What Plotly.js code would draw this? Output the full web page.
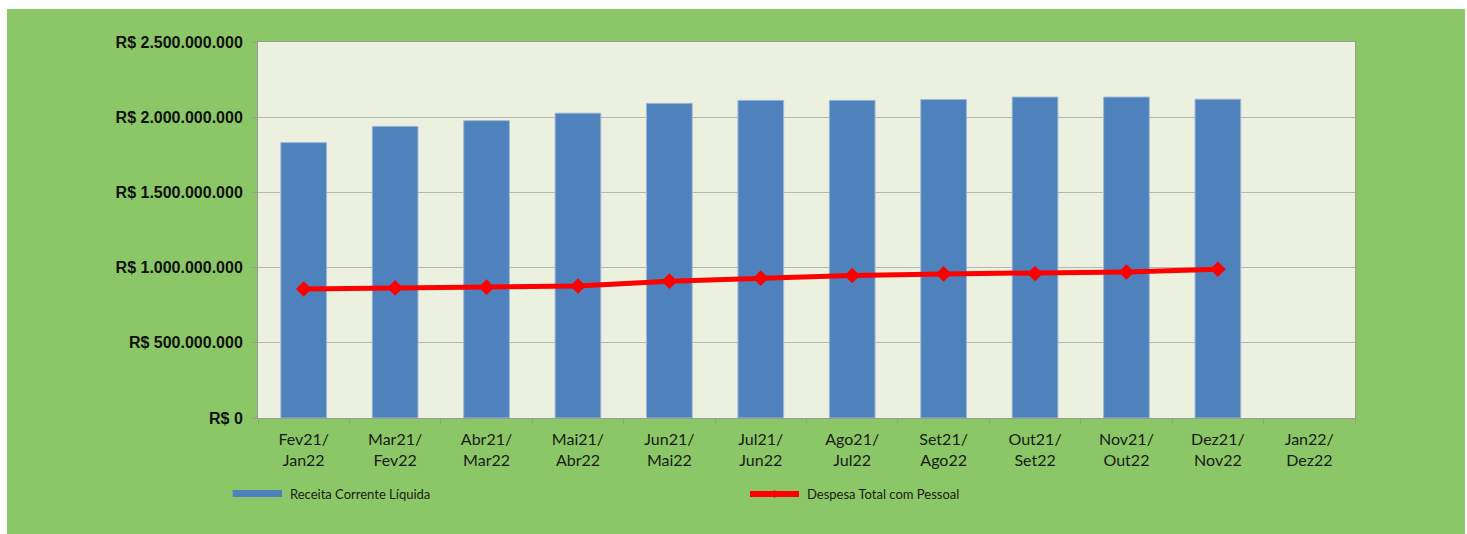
<!DOCTYPE html>
<html>
<head>
<meta charset="utf-8">
<script src="https://cdn.plot.ly/plotly-3.0.1.min.js"></script>
<style>
  html,body{margin:0;padding:0;background:#fff;}
  #chart{position:absolute;left:7px;top:9px;width:1458px;height:525px;}
</style>
</head>
<body>
<div id="chart"></div>
<script>
// RCL x Despesa com Pessoal, periodos de 12 meses
const periodos = ['Fev21/<br>Jan22','Mar21/<br>Fev22','Abr21/<br>Mar22','Mai21/<br>Abr22','Jun21/<br>Mai22','Jul21/<br>Jun22',
                  'Ago21/<br>Jul22','Set21/<br>Ago22','Out21/<br>Set22','Nov21/<br>Out22','Dez21/<br>Nov22','Jan22/<br>Dez22'];
const receitaCorrente = [1831e6, 1939e6, 1977e6, 2027e6, 2092e6, 2112e6, 2112e6, 2118e6, 2134e6, 2134e6, 2120e6, null];
const despesaPessoal  = [858e6, 865e6, 870e6, 878e6, 910e6, 930e6, 947e6, 958e6, 961e6, 971e6, 989e6, null];
const yTicks = [0, 500e6, 1000e6, 1500e6, 2000e6, 2500e6];

// "R$ 2.500.000.000"
const brl = v => 'R$ ' + String(Math.round(v)).replace(/\B(?=(\d{3})+(?!\d))/g, '.');

const legendFont = {family:'Lato, "Open Sans", sans-serif', size:13, color:'#1a1a1a'};

const traces = [
  { type:'bar', name:'Receita Corrente Líquida', x:periodos, y:receitaCorrente,
    marker:{color:'#4f81bd', line:{color:'#9fb8d6', width:1}},
    hovertemplate:'%{x}<br>R$ %{y:,.0f}<extra></extra>' },
  { type:'scatter', mode:'lines+markers', name:'Despesa Total com Pessoal', x:periodos, y:despesaPessoal,
    line:{color:'#ff0000', width:5}, marker:{symbol:'diamond', size:12, color:'#ff0000'},
    hovertemplate:'%{x}<br>R$ %{y:,.0f}<extra></extra>' }
];

const layout = {
  width:1458, height:525,
  paper_bgcolor:'#8bc766', plot_bgcolor:'#ebf1de',
  margin:{l:251, r:110, t:33, b:116},
  separators:',.',
  showlegend:false,
  bargap:0.5,
  xaxis:{
    type:'category', range:[-0.5, 11.5], tickson:'boundaries', ticks:'outside', ticklen:5, tickcolor:'#9a9a9a',
    showline:true, linecolor:'#9a9a9a', linewidth:1, mirror:true, showgrid:false, ticklabelstandoff:7,
    tickfont:{family:'Lato, "Open Sans", sans-serif', size:16, color:'#1a1a1a'}
  },
  yaxis:{
    range:[0, 2500e6], tickmode:'array', tickvals:yTicks, ticktext:yTicks.map(brl),
    ticks:'outside', ticklen:5, tickcolor:'#9a9a9a', ticklabelstandoff:6,
    showline:true, linecolor:'#9a9a9a', linewidth:1, mirror:true,
    gridcolor:'#b4b8b0', gridwidth:1, zeroline:false,
    tickfont:{family:'"Liberation Sans", Arial, sans-serif', size:16, weight:'bold', color:'#111'}
  },
  // legend drawn by hand to match the wide swatches
  shapes:[
    {type:'rect', xref:'paper', yref:'paper', x0:-0.0231, x1:0.0219, y0:-0.1915, y1:-0.2101,
     fillcolor:'#4f81bd', line:{width:0}},
    {type:'line', xref:'paper', yref:'paper', x0:0.4485, x1:0.4932, y0:-0.2021, y1:-0.2021,
     line:{color:'#ff0000', width:6}},
    {type:'path', xref:'paper', yref:'paper', xsizemode:'pixel', ysizemode:'pixel',
     xanchor:0.4708, yanchor:-0.2021, path:'M -4 0 L 0 4 L 4 0 L 0 -4 Z',
     fillcolor:'#ff0000', line:{width:0}}
  ],
  annotations:[
    {xref:'paper', yref:'paper', x:0.0273, y:-0.2021, xanchor:'left', yanchor:'middle', showarrow:false,
     text:'Receita Corrente Líquida', font:legendFont},
    {xref:'paper', yref:'paper', x:0.4986, y:-0.2021, xanchor:'left', yanchor:'middle', showarrow:false,
     text:'Despesa Total com Pessoal', font:legendFont}
  ]
};

Plotly.newPlot('chart', traces, layout, {displayModeBar:false});
</script>
</body>
</html>
